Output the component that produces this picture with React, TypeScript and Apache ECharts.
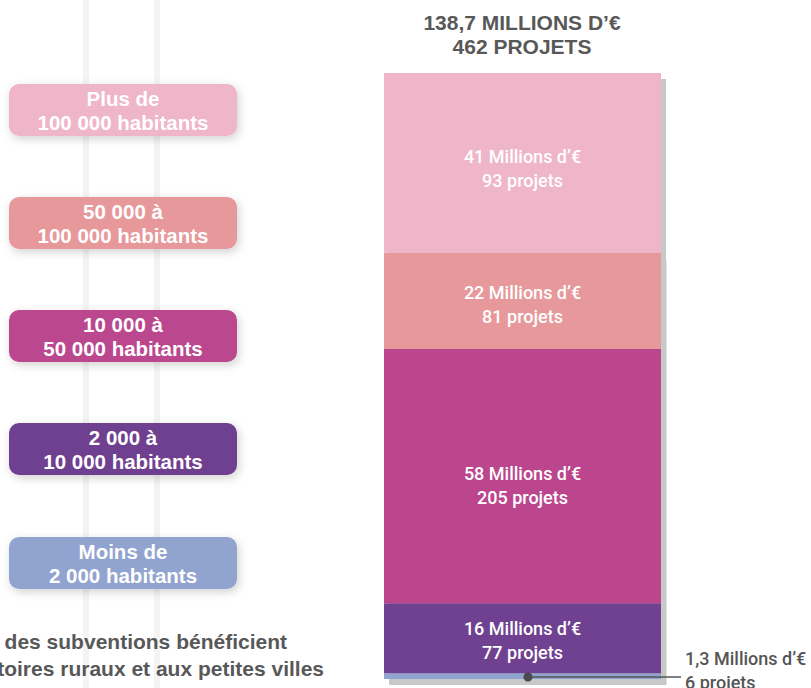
import React, { useEffect, useRef } from "react";
import * as echarts from "echarts";

// Data (bottom to top)
const categories = [
  "Moins de\n2 000 habitants",
  "2 000 à\n10 000 habitants",
  "10 000 à\n50 000 habitants",
  "50 000 à\n100 000 habitants",
  "Plus de\n100 000 habitants",
];
const millions = [1.3, 16, 58, 22, 41];
const millionsLabels = ["1,3", "16", "58", "22", "41"];
const projets = [6, 77, 205, 81, 93];
const colors = ["#91a3cf", "#6f4190", "#bb468e", "#e6989b", "#efb5c8"];
const titleLines = ["138,7 MILLIONS D\u2019\u20ac", "462 PROJETS"];
const footerLines = ["des subventions bénéficient", "aux territoires ruraux et aux petites villes"];

const total = millions.reduce((a, b) => a + b, 0);

const SANS = "'Liberation Sans', Arial, Helvetica, sans-serif";
const LABEL = "Roboto, 'Liberation Sans', Arial, sans-serif";

export default function App() {
  const ref = useRef<HTMLDivElement>(null);
  useEffect(() => {
    if (!ref.current) return;
    const chart = echarts.init(ref.current, null, { renderer: "svg" });

    const labelOffsets = [0, 2, 9, 4, 6];
    const barSeries: any[] = millions.map((v, i) => ({
      type: "bar",
      name: categories[i],
      stack: "total",
      xAxisIndex: 0,
      yAxisIndex: 0,
      barWidth: "100%",
      z: 3,
      itemStyle: { color: colors[i] },
      label: {
        show: i > 0,
        position: "inside",
        offset: [0, labelOffsets[i]],
        color: "#ffffff",
        fontFamily: LABEL,
        fontWeight: 500,
        fontSize: 18,
        lineHeight: 24,
        formatter: () => `${millionsLabels[i]} Millions d\u2019\u20ac\n${projets[i]} projets`,
      },
      data: [v],
    }));

    const shadowSeries = {
      type: "bar",
      xAxisIndex: 1,
      yAxisIndex: 1,
      barWidth: "100%",
      z: 1,
      silent: true,
      itemStyle: { color: "#c8c8c8" },
      data: [total],
    };

    const legendY = [537, 423, 310, 197, 84];
    const legendGraphics: any[] = [];
    categories.forEach((c, i) => {
      legendGraphics.push({
        type: "rect",
        shape: { x: 9, y: legendY[i], width: 228, height: 52, r: 10 },
        style: {
          fill: colors[i],
          shadowBlur: 10,
          shadowColor: "rgba(0,0,0,0.18)",
          shadowOffsetX: 2,
          shadowOffsetY: 3,
        },
        z: 10,
      });
      legendGraphics.push({
        type: "text",
        x: 123,
        y: legendY[i] + 26,
        style: {
          text: c,
          fill: "#ffffff",
          font: `bold 20.5px ${SANS}`,
          lineHeight: 24,
          align: "center",
          verticalAlign: "middle",
        },
        z: 11,
      });
    });

    const option: any = {
      animation: false,
      backgroundColor: "#ffffff",
      grid: [
        { left: 384, top: 73, width: 277, height: 606 },
        { left: 389, top: 79, width: 277, height: 606 },
      ],
      xAxis: [
        { type: "category", gridIndex: 0, data: ["total"], show: false },
        { type: "category", gridIndex: 1, data: ["total"], show: false },
      ],
      yAxis: [
        { type: "value", gridIndex: 0, min: 0, max: total, show: false },
        { type: "value", gridIndex: 1, min: 0, max: total, show: false },
      ],
      series: [shadowSeries, ...barSeries],
      graphic: [
        // faint background verticals
        { type: "line", shape: { x1: 86, y1: 0, x2: 86, y2: 688 }, style: { stroke: "#f4f4f4", lineWidth: 6 }, z: 0 },
        { type: "line", shape: { x1: 157, y1: 0, x2: 157, y2: 688 }, style: { stroke: "#f4f4f4", lineWidth: 6 }, z: 0 },
        // faint edge right of the shadow
        { type: "line", shape: { x1: 666.5, y1: 261, x2: 666.5, y2: 685 }, style: { stroke: "#e4e4e4", lineWidth: 1 }, z: 0 },
        {
          type: "text",
          x: 522,
          y: 34,
          style: {
            text: titleLines.join("\n"),
            fill: "#585858",
            font: `bold 21px ${SANS}`,
            lineHeight: 24,
            align: "center",
            verticalAlign: "middle",
          },
          z: 10,
        },
        ...legendGraphics,
        {
          type: "text",
          x: 287,
          y: 641,
          style: { text: footerLines[0], fill: "#585858", font: `bold 21px ${SANS}`, align: "right", verticalAlign: "middle" },
          z: 10,
        },
        {
          type: "text",
          x: 324,
          y: 668,
          style: { text: footerLines[1], fill: "#585858", font: `bold 21px ${SANS}`, align: "right", verticalAlign: "middle" },
          z: 10,
        },
        // annotation for the smallest segment
        { type: "line", shape: { x1: 528, y1: 677, x2: 681, y2: 677 }, style: { stroke: "#555555", lineWidth: 1.5 }, z: 20 },
        { type: "circle", shape: { cx: 528, cy: 677, r: 4.5 }, style: { fill: "#4a4a4a" }, z: 21 },
        {
          type: "text",
          x: 685,
          y: 670,
          style: {
            text: `${millionsLabels[0]} Millions d\u2019\u20ac\n${projets[0]} projets`,
            fill: "#555555",
            font: `500 18px ${LABEL}`,
            lineHeight: 24,
            align: "left",
            verticalAlign: "middle",
          },
          z: 20,
        },
      ],
    };

    chart.setOption(option);
    return () => chart.dispose();
  }, []);

  return (
    <div style={{ position: "absolute", left: 0, top: 0, width: 811, height: 688, overflow: "hidden", background: "#fff" }}>
      <div ref={ref} style={{ width: 811, height: 688 }} />
    </div>
  );
}
